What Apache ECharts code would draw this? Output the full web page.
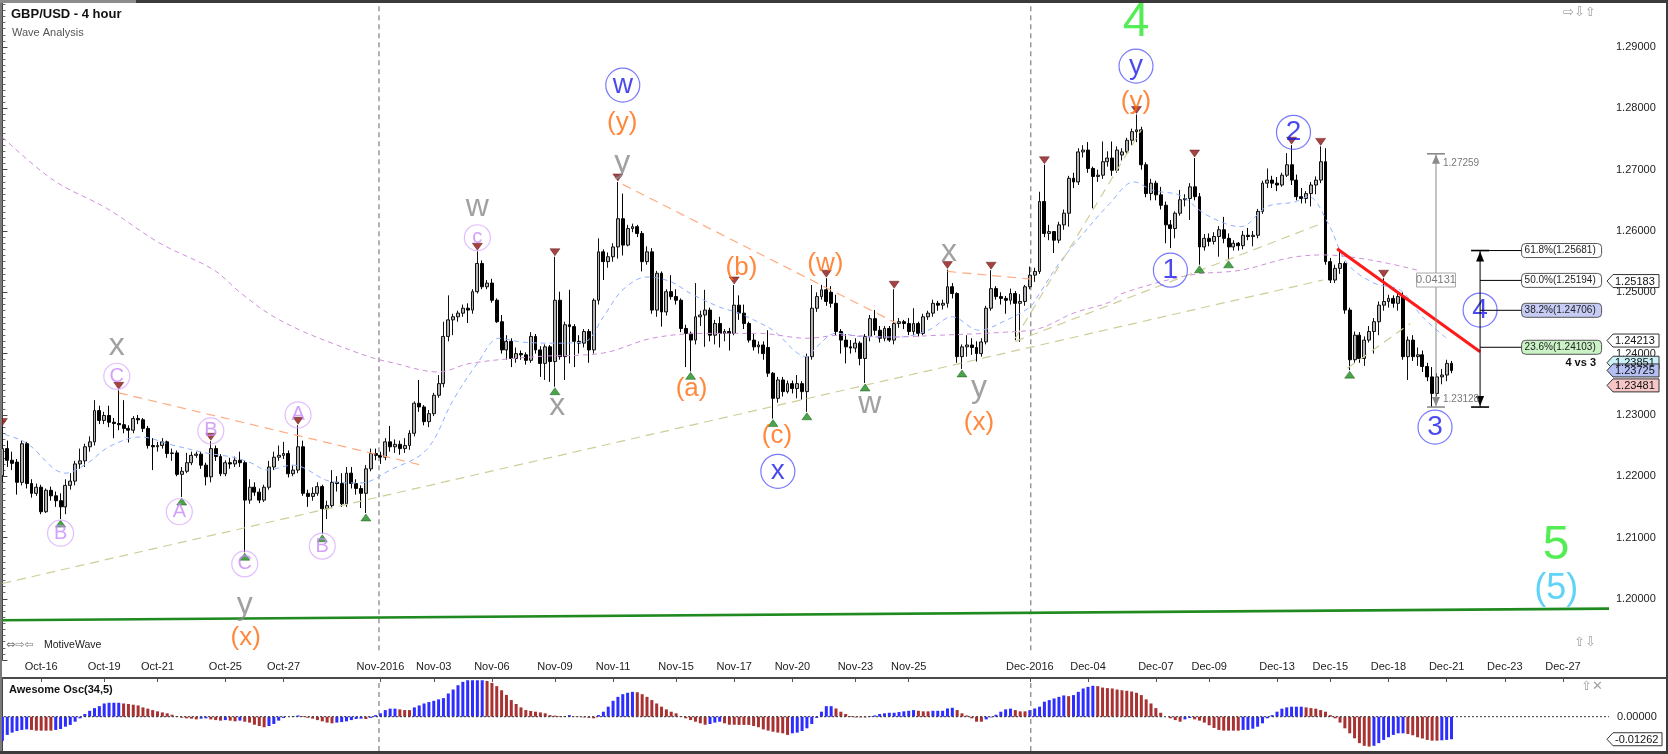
<!DOCTYPE html>
<html>
<head>
<meta charset="utf-8">
<title>GBP/USD - 4 hour</title>
<script src="https://cdn.jsdelivr.net/npm/echarts@6.0.0/dist/echarts.min.js"></script>
<style>
html,body{margin:0;padding:0;background:#fff;overflow:hidden;}
#chart{width:1668px;height:754px;}
</style>
</head>
<body>
<div id="chart"></div>
<script>
// ---------------- DATA ----------------
const N_SLOTS = 332; // 4-hour slots on the time axis (300 bars + empty future)

// [open, close, low, high]
const candles = [
[1.2201,1.2245,1.2190,1.2281],[1.2245,1.2226,1.2215,1.2258],[1.2226,1.2221,1.2210,1.2240],[1.2223,1.2190,1.2170,1.2228],[1.2190,1.2253,1.2185,1.2258],
[1.2253,1.2188,1.2180,1.2256],[1.2188,1.2172,1.2165,1.2195],[1.2172,1.2182,1.2168,1.2188],[1.2182,1.2142,1.2138,1.2186],[1.2142,1.2177,1.2140,1.2180],
[1.2177,1.2168,1.2160,1.2183],[1.2168,1.2160,1.2150,1.2175],[1.2160,1.2150,1.2130,1.2172],[1.2150,1.2185,1.2138,1.2195],[1.2185,1.2192,1.2178,1.2205],
[1.2192,1.2220,1.2185,1.2225],[1.2220,1.2225,1.2212,1.2245],[1.2225,1.2248,1.2215,1.2253],[1.2248,1.2256,1.2240,1.2265],[1.2256,1.2307,1.2250,1.2324],
[1.2307,1.2291,1.2285,1.2315],[1.2291,1.2299,1.2285,1.2305],[1.2299,1.2288,1.2280,1.2315],[1.2288,1.2286,1.2262,1.2295],[1.2286,1.2284,1.2275,1.2340],
[1.2284,1.2278,1.2270,1.2324],[1.2278,1.2275,1.2255,1.2283],[1.2275,1.2294,1.2270,1.2298],[1.2294,1.2292,1.2285,1.2300],[1.2292,1.2278,1.2272,1.2295],
[1.2278,1.2250,1.2245,1.2282],[1.2250,1.2248,1.2210,1.2262],[1.2248,1.2250,1.2240,1.2256],[1.2250,1.2256,1.2245,1.2262],[1.2256,1.2237,1.2230,1.2258],
[1.2237,1.2238,1.2225,1.2245],[1.2238,1.2203,1.2200,1.2242],[1.2203,1.2208,1.2166,1.2215],[1.2208,1.2222,1.2205,1.2238],[1.2222,1.2234,1.2218,1.2240],
[1.2234,1.2236,1.2230,1.2240],[1.2236,1.2218,1.2212,1.2240],[1.2218,1.2199,1.2185,1.2222],[1.2199,1.2245,1.2190,1.2257],[1.2245,1.2232,1.2225,1.2250],
[1.2232,1.2204,1.2200,1.2236],[1.2204,1.2222,1.2200,1.2226],[1.2222,1.2220,1.2212,1.2230],[1.2220,1.2226,1.2215,1.2232],[1.2226,1.2222,1.2215,1.2240],
[1.2222,1.2161,1.2076,1.2226],[1.2161,1.2182,1.2155,1.2195],[1.2182,1.2174,1.2168,1.2190],[1.2174,1.2161,1.2156,1.2180],[1.2161,1.2182,1.2158,1.2186],
[1.2182,1.2215,1.2178,1.2225],[1.2215,1.2231,1.2210,1.2240],[1.2231,1.2234,1.2225,1.2250],[1.2234,1.2237,1.2228,1.2256],[1.2237,1.2204,1.2198,1.2242],
[1.2204,1.2210,1.2200,1.2218],[1.2210,1.2248,1.2205,1.2283],[1.2248,1.2172,1.2168,1.2258],[1.2172,1.2167,1.2150,1.2178],[1.2167,1.2172,1.2160,1.2182],
[1.2172,1.2183,1.2168,1.2190],[1.2183,1.2147,1.2106,1.2186],[1.2147,1.2152,1.2130,1.2160],[1.2152,1.2190,1.2148,1.2210],[1.2190,1.2188,1.2175,1.2200],
[1.2188,1.2155,1.2150,1.2205],[1.2155,1.2205,1.2150,1.2215],[1.2205,1.2188,1.2180,1.2215],[1.2188,1.2180,1.2170,1.2195],[1.2180,1.2172,1.2148,1.2185],
[1.2172,1.2212,1.2140,1.2218],[1.2212,1.2237,1.2208,1.2245],[1.2237,1.2234,1.2226,1.2245],[1.2234,1.2231,1.2220,1.2240],[1.2231,1.2256,1.2226,1.2262],
[1.2256,1.2248,1.2240,1.2282],[1.2248,1.2252,1.2238,1.2260],[1.2252,1.2245,1.2235,1.2258],[1.2245,1.2250,1.2238,1.2262],[1.2250,1.2270,1.2243,1.2275],
[1.2270,1.2319,1.2265,1.2322],[1.2319,1.2313,1.2305,1.2357],[1.2313,1.2289,1.2283,1.2316],[1.2289,1.2302,1.2280,1.2308],[1.2302,1.2332,1.2298,1.2336],
[1.2332,1.2351,1.2328,1.2365],[1.2351,1.2428,1.2345,1.2452],[1.2428,1.2455,1.2420,1.2495],[1.2455,1.2460,1.2430,1.2465],[1.2460,1.2466,1.2452,1.2470],
[1.2466,1.2474,1.2460,1.2480],[1.2474,1.2471,1.2450,1.2482],[1.2471,1.2501,1.2465,1.2505],[1.2501,1.2547,1.2498,1.2567],[1.2547,1.2509,1.2505,1.2552],
[1.2509,1.2515,1.2505,1.2520],[1.2515,1.2487,1.2483,1.2522],[1.2487,1.2452,1.2450,1.2490],[1.2452,1.2406,1.2400,1.2463],[1.2406,1.2420,1.2390,1.2430],
[1.2420,1.2392,1.2378,1.2425],[1.2392,1.2400,1.2385,1.2410],[1.2400,1.2398,1.2390,1.2405],[1.2398,1.2389,1.2382,1.2402],[1.2389,1.2428,1.2385,1.2435],
[1.2428,1.2406,1.2400,1.2432],[1.2406,1.2384,1.2362,1.2412],[1.2384,1.2411,1.2357,1.2415],[1.2411,1.2387,1.2354,1.2414],[1.2387,1.2487,1.2346,1.2558],
[1.2487,1.2395,1.2390,1.2501],[1.2395,1.2447,1.2357,1.2452],[1.2447,1.2444,1.2384,1.2504],[1.2444,1.2420,1.2378,1.2448],[1.2420,1.2417,1.2400,1.2430],
[1.2417,1.2436,1.2410,1.2440],[1.2436,1.2406,1.2385,1.2440],[1.2406,1.2487,1.2400,1.2490],[1.2487,1.2566,1.2480,1.2588],[1.2566,1.2550,1.2520,1.2570],
[1.2550,1.2558,1.2540,1.2565],[1.2558,1.2574,1.2550,1.2580],[1.2574,1.2620,1.2555,1.2680],[1.2620,1.2577,1.2560,1.2661],[1.2577,1.2604,1.2575,1.2610],
[1.2604,1.2607,1.2598,1.2612],[1.2607,1.2596,1.2590,1.2610],[1.2596,1.2550,1.2534,1.2600],[1.2550,1.2566,1.2545,1.2575],[1.2566,1.2471,1.2465,1.2572],
[1.2471,1.2531,1.2460,1.2535],[1.2531,1.2468,1.2444,1.2534],[1.2468,1.2501,1.2462,1.2505],[1.2501,1.2493,1.2488,1.2528],[1.2493,1.2487,1.2480,1.2505],
[1.2487,1.2441,1.2435,1.2490],[1.2441,1.2433,1.2378,1.2447],[1.2433,1.2422,1.2371,1.2436],[1.2422,1.2460,1.2415,1.2515],[1.2460,1.2463,1.2445,1.2470],
[1.2463,1.2471,1.2411,1.2504],[1.2471,1.2430,1.2420,1.2475],[1.2430,1.2449,1.2415,1.2455],[1.2449,1.2433,1.2410,1.2460],[1.2433,1.2436,1.2420,1.2440],
[1.2436,1.2433,1.2405,1.2442],[1.2433,1.2479,1.2430,1.2512],[1.2479,1.2466,1.2455,1.2495],[1.2466,1.2449,1.2440,1.2480],[1.2449,1.2422,1.2418,1.2452],
[1.2422,1.2411,1.2405,1.2432],[1.2411,1.2414,1.2400,1.2420],[1.2414,1.2400,1.2390,1.2420],[1.2410,1.2368,1.2362,1.2438],[1.2368,1.2327,1.2294,1.2370],
[1.2327,1.2357,1.2320,1.2362],[1.2357,1.2338,1.2330,1.2362],[1.2338,1.2351,1.2335,1.2356],[1.2351,1.2343,1.2335,1.2356],[1.2343,1.2351,1.2327,1.2365],
[1.2351,1.2338,1.2325,1.2355],[1.2338,1.2395,1.2305,1.2400],[1.2395,1.2474,1.2390,1.2512],[1.2474,1.2493,1.2468,1.2500],[1.2493,1.2504,1.2488,1.2512],
[1.2504,1.2485,1.2478,1.2523],[1.2500,1.2482,1.2475,1.2510],[1.2482,1.2436,1.2430,1.2496],[1.2436,1.2422,1.2400,1.2440],[1.2422,1.2411,1.2384,1.2432],
[1.2411,1.2409,1.2400,1.2422],[1.2409,1.2417,1.2402,1.2425],[1.2417,1.2392,1.2381,1.2420],[1.2392,1.2428,1.2352,1.2432],[1.2428,1.2457,1.2420,1.2463],
[1.2457,1.2438,1.2430,1.2471],[1.2438,1.2425,1.2418,1.2445],[1.2425,1.2441,1.2420,1.2445],[1.2441,1.2422,1.2419,1.2445],[1.2422,1.2449,1.2415,1.2505],
[1.2449,1.2452,1.2442,1.2458],[1.2452,1.2449,1.2440,1.2455],[1.2449,1.2436,1.2430,1.2458],[1.2436,1.2449,1.2430,1.2474],[1.2449,1.2433,1.2428,1.2452],
[1.2433,1.2460,1.2430,1.2465],[1.2460,1.2466,1.2455,1.2470],[1.2466,1.2482,1.2460,1.2488],[1.2482,1.2479,1.2470,1.2486],[1.2479,1.2482,1.2472,1.2488],
[1.2482,1.2509,1.2475,1.2537],[1.2509,1.2498,1.2490,1.2515],[1.2498,1.2395,1.2385,1.2500],[1.2395,1.2411,1.2375,1.2415],[1.2411,1.2414,1.2395,1.2430],
[1.2414,1.2410,1.2398,1.2425],[1.2410,1.2400,1.2387,1.2420],[1.2400,1.2419,1.2395,1.2425],[1.2419,1.2474,1.2415,1.2478],[1.2474,1.2506,1.2470,1.2536],
[1.2506,1.2493,1.2488,1.2510],[1.2493,1.2490,1.2480,1.2500],[1.2490,1.2487,1.2465,1.2494],[1.2487,1.2498,1.2480,1.2506],[1.2498,1.2482,1.2422,1.2502],
[1.2482,1.2485,1.2419,1.2497],[1.2485,1.2509,1.2478,1.2512],[1.2509,1.2528,1.2505,1.2542],[1.2528,1.2534,1.2517,1.2540],[1.2534,1.2648,1.2530,1.2664],
[1.2648,1.2596,1.2590,1.2708],[1.2596,1.2599,1.2585,1.2610],[1.2599,1.2585,1.2564,1.2600],[1.2585,1.2610,1.2580,1.2615],[1.2610,1.2629,1.2602,1.2635],
[1.2629,1.2686,1.2607,1.2690],[1.2686,1.2680,1.2670,1.2695],[1.2680,1.2729,1.2675,1.2735],[1.2729,1.2732,1.2720,1.2740],[1.2732,1.2702,1.2695,1.2745],
[1.2702,1.2689,1.2637,1.2705],[1.2689,1.2691,1.2680,1.2700],[1.2691,1.2713,1.2685,1.2746],[1.2713,1.2719,1.2705,1.2730],[1.2719,1.2699,1.2690,1.2746],
[1.2699,1.2732,1.2695,1.2738],[1.2724,1.2729,1.2715,1.2735],[1.2729,1.2748,1.2725,1.2752],[1.2748,1.2762,1.2740,1.2767],[1.2762,1.2765,1.2745,1.2790],
[1.2765,1.2708,1.2700,1.2770],[1.2708,1.2661,1.2655,1.2712],[1.2661,1.2678,1.2650,1.2685],[1.2678,1.2659,1.2650,1.2682],[1.2659,1.2642,1.2635,1.2672],
[1.2642,1.2610,1.2580,1.2648],[1.2610,1.2604,1.2572,1.2618],[1.2604,1.2629,1.2588,1.2632],[1.2629,1.2651,1.2625,1.2667],[1.2651,1.2653,1.2640,1.2660],
[1.2653,1.2672,1.2618,1.2678],[1.2672,1.2656,1.2650,1.2719],[1.2656,1.2574,1.2545,1.2662],[1.2574,1.2588,1.2568,1.2595],[1.2588,1.2583,1.2575,1.2596],
[1.2583,1.2591,1.2578,1.2598],[1.2591,1.2602,1.2558,1.2608],[1.2602,1.2588,1.2580,1.2623],[1.2588,1.2574,1.2553,1.2596],[1.2574,1.2580,1.2568,1.2585],
[1.2580,1.2576,1.2568,1.2582],[1.2576,1.2593,1.2570,1.2600],[1.2593,1.2591,1.2585,1.2605],[1.2591,1.2593,1.2575,1.2600],[1.2593,1.2632,1.2588,1.2636],
[1.2632,1.2678,1.2628,1.2682],[1.2678,1.2683,1.2670,1.2702],[1.2683,1.2678,1.2670,1.2690],[1.2678,1.2675,1.2665,1.2688],[1.2675,1.2691,1.2672,1.2695],
[1.2691,1.2708,1.2688,1.2727],[1.2708,1.2683,1.2675,1.2740],[1.2683,1.2656,1.2650,1.2692],[1.2656,1.2653,1.2645,1.2670],[1.2653,1.2661,1.2645,1.2665],
[1.2661,1.2675,1.2640,1.2680],[1.2675,1.2683,1.2660,1.2689],[1.2683,1.2713,1.2678,1.2738],[1.2713,1.2550,1.2545,1.2735],[1.2550,1.2520,1.2515,1.2556],
[1.2520,1.2539,1.2515,1.2545],[1.2539,1.2547,1.2530,1.2570],[1.2547,1.2471,1.2465,1.2550],[1.2471,1.2390,1.2373,1.2475],[1.2390,1.2430,1.2385,1.2436],
[1.2430,1.2392,1.2385,1.2435],[1.2392,1.2422,1.2380,1.2428],[1.2422,1.2436,1.2418,1.2445],[1.2436,1.2452,1.2400,1.2458],[1.2452,1.2479,1.2430,1.2485],
[1.2479,1.2485,1.2470,1.2523],[1.2485,1.2490,1.2475,1.2496],[1.2490,1.2482,1.2475,1.2495],[1.2482,1.2493,1.2470,1.2500],[1.2493,1.2395,1.2390,1.2500],
[1.2395,1.2422,1.2357,1.2428],[1.2422,1.2395,1.2388,1.2430],[1.2395,1.2398,1.2380,1.2410],[1.2398,1.2379,1.2370,1.2405],[1.2379,1.2362,1.2355,1.2385],
[1.2362,1.2335,1.23128,1.2378],[1.2335,1.2362,1.2330,1.2368],[1.2362,1.2365,1.2350,1.2375],[1.2365,1.2384,1.2355,1.2390],[1.2384,1.23725,1.2368,1.2388]
];

// Awesome Oscillator (34,5), one value per bar
const aoValues = [
-0.0135,-0.0102,-0.0089,-0.0080,-0.0074,-0.0071,-0.0074,-0.0078,-0.0078,
-0.0078,-0.0078,-0.0074,-0.0069,-0.0056,-0.0046,-0.0028,-0.0009,0.0015,0.0033,0.0048,0.0059,0.0074,0.0078,0.0078,
0.0078,0.0074,0.0071,0.0067,0.0063,0.0052,0.0045,0.0037,0.0030,0.0024,0.0019,0.0011,0.0004,-0.0006,-0.0009,-0.0011,
-0.0015,-0.0011,-0.0009,-0.0015,-0.0019,-0.0022,-0.0019,-0.0022,-0.0026,-0.0022,-0.0028,-0.0033,-0.0045,-0.0052,-0.0059,
-0.0052,-0.0041,-0.0022,-0.0007,0,0.0004,0.0007,0.0004,-0.0006,-0.0011,-0.0019,-0.0026,-0.0033,-0.0037,
-0.0033,-0.0030,-0.0026,-0.0019,-0.0013,-0.0011,-0.0013,-0.0007,0.0009,0.0019,0.0037,0.0045,0.0045,0.0041,0.0037,
0.0037,0.0052,0.0063,0.0074,0.0082,0.0089,0.0097,0.0104,0.0130,0.0152,0.0176,0.0195,0.0204,0.0204,0.0204,
0.0204,0.0200,0.0189,0.0171,0.0148,0.0122,0.0093,0.0071,0.0052,0.0037,0.0032,0.0028,0.0024,0.0019,0.0009,0.0006,0.0004,
0.0004,0.0009,0.0002,-0.0002,-0.0004,-0.0006,-0.0009,0.0009,0.0028,0.0056,0.0089,0.0111,0.0126,0.0134,0.0139,0.0137,
0.0126,0.0111,0.0093,0.0074,0.0056,0.0041,0.0028,0.0019,0.0004,-0.0009,-0.0019,-0.0028,-0.0037,-0.0045,-0.0041,-0.0033,
-0.0028,-0.0037,-0.0045,-0.0045,
-0.0046,-0.0046,-0.0046,-0.0052,-0.0059,-0.0071,-0.0078,-0.0084,-0.0089,-0.0093,
-0.0102,-0.0093,-0.0089,-0.0080,-0.0065,-0.0041,-0.0007,0.0028,0.0059,0.0059,
0.0046,0.0028,0.0015,0.0004,-0.0004,-0.0004,-0.0004,0.0004,0.0007,0.0015,
0.0019,0.0022,0.0022,0.0026,0.0030,0.0033,0.0037,0.0033,0.0030,0.0030,
0.0033,0.0033,0.0033,0.0046,0.0050,0.0037,0.0019,0.0007,-0.0009,-0.0028,
-0.0028,-0.0015,-0.0004,0.0011,0.0028,0.0041,0.0045,0.0037,0.0030,0.0030,
0.0037,0.0046,0.0056,0.0084,0.0093,0.0102,0.0111,0.0119,0.0115,0.0121,
0.0139,0.0158,0.0167,0.0173,0.0171,0.0163,0.0160,0.0158,0.0152,0.0148,
0.0145,0.0141,0.0134,0.0121,0.0097,0.0074,0.0048,0.0022,0,-0.0009,
-0.0019,-0.0028,-0.0015,-0.0007,-0.0015,-0.0022,-0.0033,-0.0048,-0.0063,-0.0074,
-0.0078,-0.0078,-0.0078,-0.0078,-0.0074,-0.0074,-0.0067,-0.0056,-0.0037,-0.0009,
0.0009,0.0028,0.0045,0.0052,0.0056,0.0056,0.0056,0.0052,0.0048,0.0045,
0.0037,0.0028,0.0009,-0.0009,-0.0033,-0.0065,-0.0093,-0.0121,-0.0148,-0.0163,
-0.0167,-0.0163,-0.0148,-0.0130,-0.0115,-0.0102,-0.0093,-0.0093,-0.0097,-0.0104,
-0.0115,-0.0122,-0.0130,-0.0134,-0.0134,-0.0132,-0.0130,-0.01262
];

// date tick labels: [label, bar slot]
const dateTicks = [
['Oct-16',8],['Oct-19',21],['Oct-21',32],['Oct-25',46],['Oct-27',58],['Nov-2016',78],['Nov-03',89],['Nov-06',101],
['Nov-09',114],['Nov-11',126],['Nov-15',139],['Nov-17',151],['Nov-20',163],['Nov-23',176],['Nov-25',187],['Dec-2016',212],
['Dec-04',224],['Dec-07',238],['Dec-09',249],['Dec-13',263],['Dec-15',274],['Dec-18',286],['Dec-21',298],['Dec-23',310],['Dec-27',322]
];
const monthLines = [77.7, 212.2];

// price scale shown in the main panel
const priceMin = 1.19, priceMax = 1.29768, priceStep = 0.01;

// moving averages: [bar, price]
const blueMA = [[0.5,1.2268],[5,1.2254],[13,1.2205],[17.5,1.2221],[22,1.2248],[28.5,1.2264],[35,1.2251],[42,1.2238],[47.5,1.2231],[51.5,1.2221],[54.5,1.2210],[60,1.2218],[68,1.2191],[74,1.2189],[80,1.2210],[87.5,1.2243],[93,1.2324],[98,1.2384],[102.5,1.2425],[107,1.2419],[113.5,1.2417],[120,1.2419],[124,1.2460],[128,1.2504],[133,1.2525],[138,1.2517],[142,1.2498],[148,1.2476],[152,1.2466],[156,1.2451],[159,1.2438],[166,1.2395],[168,1.2411],[172,1.2433],[178.5,1.2427],[185,1.2427],[191,1.2438],[196,1.2460],[201.5,1.2438],[207,1.2454],[212,1.2476],[214,1.2498],[218,1.2547],[222.5,1.2591],[228.5,1.2645],[233.5,1.2680],[237.5,1.2666],[243,1.2658],[248.5,1.2626],[255.5,1.2607],[261,1.2640],[266.5,1.2647],[269.5,1.2656],[273.5,1.2613],[277.5,1.2547],[283,1.2515],[288.5,1.2503],[293,1.2460],[298,1.2425]];
const purpleMA = [[0,1.2753],[10.5,1.2683],[21.5,1.2637],[32.5,1.2580],[43.5,1.2537],[49,1.2500],[55,1.2465],[61.5,1.2438],[68,1.2417],[76,1.2394],[80,1.2386],[90,1.2370],[96.5,1.2384],[110,1.2395],[124,1.2401],[134,1.2425],[145,1.2433],[156,1.2433],[166,1.2425],[173,1.2430],[183,1.2427],[193.5,1.2430],[207,1.2435],[214,1.2441],[221,1.2466],[228.5,1.2484],[231,1.2498],[245,1.2528],[255.5,1.2536],[265.5,1.2556],[272.5,1.2561],[279.5,1.2556],[286,1.2547],[292,1.2536]];

// drawn trend lines: [[bar, price], [bar, price]]
const orangeTrends = [[[24,1.2336],[86,1.2219]],[[128,1.2676],[184.6,1.2449]],[[195,1.2534],[213,1.2521]]];
const khakiTrends = [[[0,1.2025],[272.5,1.2520]],[[209,1.2420],[272.5,1.2613]],[[209,1.2425],[235,1.2765]],[[277.5,1.2376],[290.5,1.2449]]];
const redTrend = [[275.4,1.2571],[304.9,1.2403]];
const greenSupport = [[-0.5,1.1965],[331.5,1.1984]];

// swing markers (bar indexes)
const highMarkers = [0,24,43,61,98,114,127,151,170,184,195,204,215,234,246,266,272,285];
const lowMarkers = [12,37,50,66,75,114,142,159,166,178,198,247,253,278];

// wave labels: [text, bar, price, style]
const waveLabels = [
['C',23.6,1.2363,'pc'],['B',12,1.2107,'pc'],['B',43,1.2274,'pc'],['A',36.5,1.2142,'pc'],['C',50,1.2057,'pc'],['A',61,1.2300,'pc'],['B',66,1.2086,'pc'],['c',98,1.2589,'pc'],
['x',23.6,1.2412,'g'],['y',50,1.1990,'g'],['w',98,1.2639,'g'],['x',114.5,1.2315,'g'],['y',127.9,1.2710,'g'],['w',179,1.2318,'g'],['x',195.3,1.2566,'g'],['y',201.5,1.2344,'g'],
['(x)',50.2,1.1936,'o'],['(y)',127.9,1.2776,'o'],['(b)',152.5,1.2540,'o'],['(a)',142.2,1.2342,'o'],['(w)',169.8,1.2546,'o'],['(c)',159.8,1.2266,'o'],['(x)',201.5,1.2287,'o'],['(y)',233.9,1.2810,'o'],
['w',128,1.2838,'bc'],['x',160,1.2208,'bc'],['y',233.9,1.2869,'bc'],['1',241,1.2536,'bc'],['2',266.4,1.2761,'bc'],['3',295.6,1.2280,'bc'],['4',304.9,1.2471,'bc'],
['4',233.9,1.2939,'gr'],['5',320.6,1.2086,'gr'],
['(5)',320.6,1.2016,'cy']
];

const measure = {bar: 295.8, top: 1.27259, bottom: 1.23128, boxPrice: 1.2520};
const fib = {bar: 304.9, bottom: 1.23128, levels: [['61.8%',1.25681,'#ffffff'],['50.0%',1.25194,'#ffffff'],['38.2%',1.24706,'#c6ccf4'],['23.6%',1.24103,'#caf2c5']]};
const priceTags = [[1.25183,'#ffffff'],[1.24213,'#ffffff'],[1.23851,'#cdf1f9'],[1.23725,'#b6bff2'],[1.23481,'#f7c6c6']];
const aoTag = -0.01262;

// ---------------- CHART ----------------
const FONT = 'Liberation Sans, Arial, sans-serif';
const chart = echarts.init(document.getElementById('chart'));
const categories = Array.from({length: N_SLOTS}, (_, i) => String(i));
const tickMap = new Map(dateTicks.map(d => [d[1], d[0]]));
const BLUE = '#2d2dff', RED = '#a83232';
let prevColor = BLUE;
const aoData = aoValues.map((v, i) => {
  let c = prevColor;
  if (i > 0) { if (v > aoValues[i-1]) c = BLUE; else if (v < aoValues[i-1]) c = RED; }
  prevColor = c;
  return {value: v, itemStyle: {color: c}};
});

const styleDefs = {
  pc: {circle: 26, border: '#d9aefc', color: '#c98af7', size: 20},
  g:  {color: '#8a8a8a', size: 32},
  o:  {color: '#ff6a0d', size: 26},
  bc: {circle: 34, border: '#5656ff', color: '#1c1ce8', size: 28},
  gr: {color: '#2ae82a', size: 48},
  cy: {color: '#38c8f5', size: 36}
};

const series = [];
series.push({
  type: 'candlestick', xAxisIndex: 0, yAxisIndex: 0, data: candles, barWidth: 3.4, z: 3, silent: true,
  itemStyle: {color: '#b2b2b2', color0: '#000000', borderColor: '#111111', borderColor0: '#000000', borderWidth: 1}
});
const MAIN_REF = series.length;
series.push({type: 'line', xAxisIndex: 1, yAxisIndex: 0, data: blueMA, smooth: 0.35, symbol: 'none', silent: true, z: 4,
  lineStyle: {color: '#8fb0ff', width: 1, type: [5, 4]}});
series.push({type: 'line', xAxisIndex: 1, yAxisIndex: 0, data: purpleMA, smooth: 0.35, symbol: 'none', silent: true, z: 4,
  lineStyle: {color: '#cf8fdc', width: 1, type: [5, 4]}});
orangeTrends.forEach(t => series.push({type: 'line', xAxisIndex: 1, yAxisIndex: 0, data: t, symbol: 'none', silent: true, z: 4,
  lineStyle: {color: '#ffab80', width: 1.2, type: [9, 6]}}));
khakiTrends.forEach(t => series.push({type: 'line', xAxisIndex: 1, yAxisIndex: 0, data: t, symbol: 'none', silent: true, z: 4,
  lineStyle: {color: '#cfcd98', width: 1.2, type: [9, 6]}}));
monthLines.forEach(m => series.push({type: 'line', xAxisIndex: 1, yAxisIndex: 0, data: [[m, 1.1916], [m, priceMax]], symbol: 'none', silent: true, z: 2,
  lineStyle: {color: '#666666', width: 1, type: [5, 4]}}));
series.push({type: 'line', xAxisIndex: 1, yAxisIndex: 0, data: greenSupport, symbol: 'none', silent: true, z: 5,
  lineStyle: {color: '#1f8a1f', width: 2.6}});
series.push({type: 'line', xAxisIndex: 1, yAxisIndex: 0, data: redTrend, symbol: 'none', silent: true, z: 6,
  lineStyle: {color: '#ff1a1a', width: 3}});
series.push({type: 'scatter', xAxisIndex: 0, yAxisIndex: 0, silent: true, z: 7,
  data: highMarkers.map(i => [i, candles[i][3]]), symbol: 'triangle', symbolRotate: 180, symbolSize: [10, 7], symbolOffset: [0, -4.5],
  itemStyle: {color: '#8e1414', borderColor: '#4a0000', borderWidth: 0.5}});
series.push({type: 'scatter', xAxisIndex: 0, yAxisIndex: 0, silent: true, z: 7,
  data: lowMarkers.map(i => [i, candles[i][2]]), symbol: 'triangle', symbolSize: [10, 7], symbolOffset: [0, 4.5],
  itemStyle: {color: '#1d8f1d', borderColor: '#004400', borderWidth: 0.5}});
Object.keys(styleDefs).forEach(k => {
  const d = styleDefs[k];
  series.push({
    type: 'scatter', xAxisIndex: 1, yAxisIndex: 0, silent: true, z: 8,
    data: waveLabels.filter(w => w[3] === k).map(w => [w[1], w[2], w[0]]),
    symbol: 'circle', symbolSize: d.circle || 1,
    itemStyle: {color: 'rgba(0,0,0,0)', borderColor: d.circle ? d.border : 'rgba(0,0,0,0)', borderWidth: 1.2},
    label: {show: true, position: 'inside', formatter: p => p.data[2], color: d.color, fontSize: d.size, fontFamily: FONT}
  });
});
// oscillator
series.push({type: 'bar', xAxisIndex: 3, yAxisIndex: 2, data: aoData, barWidth: 3, silent: true});
const OSC_REF = series.length;
series.push({type: 'line', xAxisIndex: 4, yAxisIndex: 2, data: [[-0.5, 0], [331.5, 0]], symbol: 'none', silent: true, z: 4,
  lineStyle: {color: '#333333', width: 1, type: [2, 2]}});
monthLines.forEach(m => series.push({type: 'line', xAxisIndex: 4, yAxisIndex: 2, data: [[m, -0.0192], [m, 0.0211]], symbol: 'none', silent: true, z: 2,
  lineStyle: {color: '#666666', width: 1, type: [5, 4]}}));

const hiddenCat = (g) => ({type: 'category', gridIndex: g, data: categories, boundaryGap: true, show: false});
const hiddenVal = (g) => ({type: 'value', gridIndex: g, min: -0.5, max: N_SLOTS - 0.5, show: false});

chart.setOption({
  animation: false,
  backgroundColor: '#ffffff',
  textStyle: {fontFamily: FONT},
  grid: [
    {left: 0, right: 59, top: 0, height: 660.1},
    {left: 0, right: 59, top: 651, height: 26},
    {left: 0, right: 59, top: 679, height: 72}
  ],
  xAxis: [
    hiddenCat(0), hiddenVal(0),
    {type: 'category', gridIndex: 1, data: categories, boundaryGap: true, position: 'top',
      axisLine: {show: true, lineStyle: {color: '#9a9a9a', width: 1}},
      axisTick: {show: true, inside: true, length: 5, alignWithLabel: true, interval: (i) => tickMap.has(i), lineStyle: {color: '#555'}},
      axisLabel: {show: true, inside: true, margin: 10, fontSize: 11, color: '#222', interval: (i) => tickMap.has(i),
        formatter: (v) => tickMap.get(Number(v)) || ''},
      splitLine: {show: false}},
    hiddenCat(2), hiddenVal(2)
  ],
  yAxis: [
    {type: 'value', gridIndex: 0, position: 'right', min: priceMin, max: priceMax, interval: priceStep,
      axisLine: {show: true, lineStyle: {color: '#444', width: 1}},
      axisTick: {show: true, length: 5, lineStyle: {color: '#444'}},
      minorTick: {show: true, splitNumber: 10, length: 3, lineStyle: {color: '#666'}},
      splitLine: {show: false},
      axisLabel: {margin: 7, fontSize: 11, color: '#222', showMinLabel: true, showMaxLabel: false,
        formatter: (v) => (v < 1.195 || v > 1.295) ? '' : v.toFixed(5)}},
    {type: 'value', gridIndex: 1, show: false},
    {type: 'value', gridIndex: 2, position: 'right', min: -0.0192, max: 0.0211,
      axisLine: {show: true, lineStyle: {color: '#444', width: 1}},
      axisTick: {show: false},
      minorTick: {show: false},
      splitLine: {show: false}, axisLabel: {show: false}}
  ],
  series: series
});

// ---------------- overlays positioned through the chart's own scales ----------------
const G = [];
const pm = (x, y) => chart.convertToPixel({seriesIndex: MAIN_REF}, [x, y]);
const po = (x, y) => chart.convertToPixel({seriesIndex: OSC_REF}, [x, y]);
function gLine(x1, y1, x2, y2, stroke, lw) { G.push({type: 'line', silent: true, z: 50, shape: {x1, y1, x2, y2}, style: {stroke, lineWidth: lw || 1}}); }
function gPoly(points, fill, stroke) { G.push({type: 'polygon', silent: true, z: 50, shape: {points}, style: {fill, stroke: stroke || null, lineWidth: 1}}); }
function gRect(x, y, width, height, fill, stroke, r, z) { G.push({type: 'rect', silent: true, z: z || 50, shape: {x, y, width, height, r: r || 0}, style: {fill, stroke: stroke || null, lineWidth: 1}}); }
function gText(x, y, text, font, fill, align, va, z) { G.push({type: 'text', silent: true, z: z || 60, x, y, style: {text, font, fill, align: align || 'left', verticalAlign: va || 'middle'}}); }

const W = chart.getWidth();
const axisX = W - 59;

// frame / chrome
gRect(0, 0, W, 3, '#3b3b3b', null, 0, 90);
gRect(0, 0, 136, 3, '#8c8c8c', null, 0, 91);
gRect(0, 0, 2, 754, '#7a7a7a', null, 0, 90);
gRect(W - 2, 0, 2, 754, '#3b3b3b', null, 0, 90);
gRect(0, 751, W, 3, '#3b3b3b', null, 0, 90);
gRect(axisX + 1, 652, W - axisX - 3, 25, '#ffffff', null, 0, 80);
gRect(0, 677, W, 2, '#4a4a4a', null, 0, 85);
gText(11, 14, 'GBP/USD - 4 hour', 'bold 13px ' + FONT, '#111');
gText(12, 33, 'Wave Analysis', '11px ' + FONT, '#555');
gText(1563, 13, '\u21E8\u21E9\u21E7', '13px DejaVu Sans', '#a0a0a0');
gText(1574, 643, '\u21E7\u21E9', '13px DejaVu Sans', '#a0a0a0');
gText(1581, 687, '\u21E7\u2715', '13px DejaVu Sans', '#a0a0a0');
gText(6, 645, '\u21D4\u21E8\u21E6', '11px DejaVu Sans', '#777');
gText(44, 645, 'MotiveWave', '10.5px ' + FONT, '#222');
gText(9, 690, 'Awesome Osc(34,5)', 'bold 11px ' + FONT, '#111');
gText(1596, 363, '4 vs 3', 'bold 11px ' + FONT, '#111', 'right');

// measure tool
(function () {
  const t = pm(measure.bar, measure.top), b = pm(measure.bar, measure.bottom), mid = pm(measure.bar, measure.boxPrice);
  const x = t[0], c = '#8a8a8a';
  gLine(x, t[1], x, b[1], c, 1);
  gLine(x - 9, t[1], x + 9, t[1], c, 1.6);
  gLine(x - 9, b[1], x + 9, b[1], c, 1.6);
  gPoly([[x, t[1] + 1], [x - 4, t[1] + 10], [x + 4, t[1] + 10]], c);
  gPoly([[x, b[1] - 1], [x - 4, b[1] - 10], [x + 4, b[1] - 10]], c);
  gText(x + 7, t[1] + 9, measure.top.toFixed(5), '10px ' + FONT, '#7a7a7a');
  gText(x + 7, b[1] - 8, measure.bottom.toFixed(5), '10px ' + FONT, '#7a7a7a');
  gRect(x - 19.5, mid[1] - 7, 39, 14, '#ffffff', '#a8a8a8');
  gText(x, mid[1], (measure.top - measure.bottom).toFixed(5), '11px ' + FONT, '#7a7a7a', 'center');
})();

// fibonacci retracement tool
(function () {
  const top = pm(fib.bar, fib.levels[0][1]), bot = pm(fib.bar, fib.bottom);
  const x = top[0];
  gLine(x, top[1], x, bot[1], '#000', 1);
  gLine(x - 9, bot[1], x + 9, bot[1], '#000', 1.6);
  gLine(x - 9, top[1], x + 9, top[1], '#000', 1.6);
  gPoly([[x, top[1] + 1], [x - 4, top[1] + 11], [x + 4, top[1] + 11]], '#000');
  gPoly([[x, bot[1] - 1], [x - 4, bot[1] - 11], [x + 4, bot[1] - 11]], '#000');
  fib.levels.forEach(l => {
    const y = pm(fib.bar, l[1])[1];
    gLine(x, y, x + 42, y, '#000', 1);
    gRect(x + 41.5, y - 7, 80, 14, l[2], '#555', 4);
    gText(x + 44.5, y, l[0] + '(' + l[1].toFixed(5) + ')', '10px ' + FONT, '#222');
  });
})();

// price tags on the right axis
function tag(y, txt, fill, w) {
  const x0 = axisX - 2;
  gPoly([[x0, y], [x0 + 6, y - 6.5], [x0 + w, y - 6.5], [x0 + w, y + 6.5], [x0 + 6, y + 6.5]], fill, '#333');
  gText(x0 + 8, y + 0.5, txt, '11px ' + FONT, '#111', 'left', 'middle', 61);
}
priceTags.forEach(p => tag(pm(0, p[0])[1], p[0].toFixed(5), p[1], 52));
gText(axisX + 8, po(0, 0)[1], '0.00000', '11px ' + FONT, '#222');
tag(po(0, aoTag)[1], aoTag.toFixed(5), '#ffffff', 55);

chart.setOption({graphic: G});
</script>
</body>
</html>
